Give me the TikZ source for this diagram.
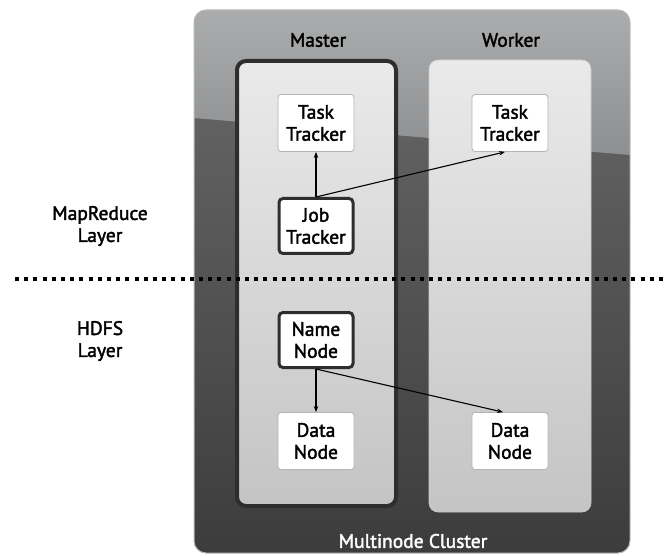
\documentclass[tikz,border=0pt]{standalone}
\usepackage{fontspec}
\setmainfont{PT Sans}[FakeBold=2]
\usetikzlibrary{arrows.meta}

\definecolor{clustertop}{HTML}{ABACAD}
\definecolor{clusterband}{HTML}{8E8F90}
\definecolor{clustermid}{HTML}{636363}
\definecolor{clusterbottom}{HTML}{3C3C3C}
\definecolor{paneltop}{HTML}{EAEAEA}
\definecolor{panelbottom}{HTML}{C4C4C4}
\definecolor{boxline}{HTML}{B4B4B4}
\definecolor{darkline}{HTML}{2E2E2E}

\tikzset{
  panel/.style={rectangle, rounded corners=9pt, top color=paneltop, bottom color=panelbottom},
  plainbox/.style={rectangle, rounded corners=3pt, draw=boxline, fill=white, line width=0.8pt,
    minimum width=76, minimum height=57, align=center, inner sep=0pt},
  headbox/.style={plainbox, draw=darkline, line width=3pt, rounded corners=4pt, minimum width=74, minimum height=55},
  flow/.style={-{Stealth[length=6pt, width=4.5pt]}, line width=1.1pt, black},
  layerline/.style={line width=4pt, dash pattern=on 4pt off 5.2pt, black}
}

\begin{document}
\begin{tikzpicture}[x=1pt, y=-1pt, font=\fontsize{19.5}{22}\selectfont]
\useasboundingbox (0,0) rectangle (667,556);
% cluster background
\begin{scope}
\clip[rounded corners=12pt] (194,10) rectangle (630,553);
\shade[top color=clustermid, bottom color=clusterbottom] (194,100) rectangle (630,553);
\shade[top color=clustertop, bottom color=clusterband] (194,10) -- (630,10) -- (630,155) -- (194,118) -- cycle;
\end{scope}
\draw[rounded corners=12pt, draw=gray!55, line width=1pt] (194,10) rectangle (630,553);

% panels
\node[panel, draw=darkline, line width=4pt, minimum width=159, minimum height=445] (master) at (316.5,283.5) {};
\node[panel, draw=gray!40, line width=0.6pt, minimum width=162, minimum height=452] (worker) at (510,286) {};
\node (mastertitle) at (318,40) {Master};
\node (workertitle) at (511,40) {Worker};

% layers
\node[align=center] (mrlayer) at (100,226) {MapReduce\\Layer};
\node[align=center] (hdfslayer) at (100,341) {HDFS\\Layer};
\coordinate (sepL) at (15,279);
\coordinate (sepR) at (667,279);

% boxes
\node[plainbox] (task1) at (316,123) {Task\\Tracker};
\node[plainbox] (task2) at (510,123) {Task\\Tracker};
\node[headbox] (job) at (316,226) {Job\\Tracker};
\node[headbox] (name) at (316,340) {Name\\Node};
\node[plainbox] (data1) at (316,441) {Data\\Node};
\node[plainbox] (data2) at (510,441) {Data\\Node};

\draw[layerline] (sepL) -- (sepR);

\draw[flow] (job.north) -- (task1.south);
\draw[flow] (job.north) -- ([xshift=-5pt]task2.south);
\draw[flow] (name.south) -- (data1.north);
\draw[flow] (name.south) -- ([xshift=-7pt]data2.north);

\node[text=white] (clustertitle) at (413,541) {Multinode Cluster};
\end{tikzpicture}
\end{document}
